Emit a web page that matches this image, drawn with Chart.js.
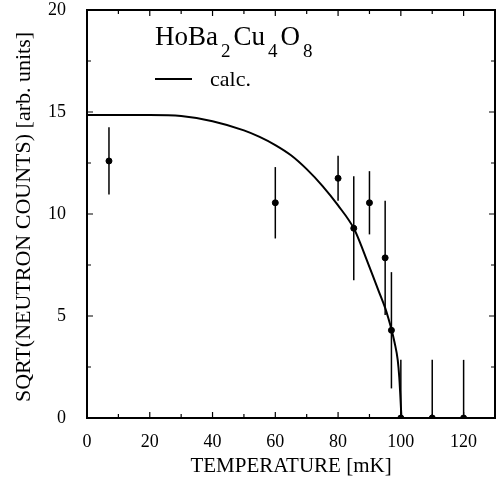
<!DOCTYPE html>
<html>
<head>
<meta charset="utf-8">
<script src="https://cdn.jsdelivr.net/npm/chart.js@4.4.0/dist/chart.umd.min.js"></script>
<style>
  html, body { margin: 0; padding: 0; background: #fff; }
  #wrap { width: 502px; height: 493px; }
</style>
</head>
<body>
<div id="wrap"><canvas id="myChart"></canvas></div>
<script>
// measured points (temperature in mK, sqrt counts)
const temps = [7, 60, 80, 85, 90, 95, 97, 100, 110, 120];
const counts = [12.6, 10.55, 11.75, 9.3, 10.55, 7.85, 4.3, 0, 0, 0];
const errDown = [1.65, 1.75, 1.1, 2.55, 1.55, 2.8, 2.85, 0, 0, 0];
const errUp = [1.65, 1.75, 1.1, 2.55, 1.55, 2.8, 2.85, 2.85, 2.85, 2.85];

// calculated curve
const calcT = [0, 10, 20, 30, 40, 50, 55, 60, 65, 70, 75, 80, 85, 87, 89, 91, 93, 95, 96, 97, 98, 99, 99.5, 99.8, 100.2];
const calcY = [14.85, 14.85, 14.85, 14.8, 14.55, 14.1, 13.78, 13.38, 12.88, 12.2, 11.38, 10.42, 9.3, 8.6, 7.8, 7.0, 6.2, 5.4, 4.9, 4.35, 3.7, 2.85, 2.0, 1.2, 0];

const xTicks = [0, 20, 40, 60, 80, 100, 120];
const yTicks = [0, 5, 10, 15, 20];

const serif = "'Liberation Serif', 'DejaVu Serif', serif";

const frame = {
  id: "frame",
  afterDatasetsDraw(chart) {
    const { ctx, chartArea: a, scales } = chart;
    const xs = scales.x, ys = scales.y;
    ctx.save();
    ctx.strokeStyle = "#000";

    // error bars
    ctx.lineWidth = 1.5;
    for (let i = 0; i < temps.length; i++) {
      const px = xs.getPixelForValue(temps[i]);
      ctx.beginPath();
      ctx.moveTo(px, ys.getPixelForValue(counts[i] - errDown[i]));
      ctx.lineTo(px, ys.getPixelForValue(counts[i] + errUp[i]));
      ctx.stroke();
    }

    // box
    ctx.lineWidth = 2;
    ctx.strokeRect(a.left, a.top, a.right - a.left, a.bottom - a.top);

    // inward ticks
    ctx.lineWidth = 1.2;
    for (let v = 0; v <= 130; v += 10) {
      const px = xs.getPixelForValue(v);
      const len = v % 20 === 0 ? 6 : 4;
      ctx.beginPath();
      ctx.moveTo(px, a.bottom); ctx.lineTo(px, a.bottom - len);
      ctx.moveTo(px, a.top); ctx.lineTo(px, a.top + len);
      ctx.stroke();
    }
    for (let v = 0; v <= 20; v += 2.5) {
      const py = ys.getPixelForValue(v);
      const len = v % 5 === 0 ? 6 : 4;
      ctx.beginPath();
      ctx.moveTo(a.left, py); ctx.lineTo(a.left + len, py);
      ctx.moveTo(a.right, py); ctx.lineTo(a.right - len, py);
      ctx.stroke();
    }

    // y title
    ctx.fillStyle = "#000";
    ctx.font = "22px " + serif;
    ctx.textAlign = "center";
    ctx.textBaseline = "middle";
    ctx.translate(24, 217);
    ctx.rotate(-Math.PI / 2);
    ctx.fillText("SQRT(NEUTRON COUNTS) [arb. units]", 0, 0);
    ctx.restore();

    // legend block
    ctx.save();
    ctx.fillStyle = "#000";
    ctx.textBaseline = "alphabetic";
    let x = 155;
    const parts = [["HoBa", 0], ["2", 1], ["Cu", 0], ["4", 1], ["O", 0], ["8", 1]];
    for (const [t, sub] of parts) {
      ctx.font = sub ? "19px " + serif : "27px " + serif;
      ctx.fillText(t, x, sub ? 57 : 45);
      x += ctx.measureText(t).width + 3;
    }
    ctx.lineWidth = 2;
    ctx.beginPath();
    ctx.moveTo(155, 79); ctx.lineTo(192, 79);
    ctx.stroke();
    ctx.font = "22px " + serif;
    ctx.fillText("calc.", 210, 86);
    ctx.restore();
  }
};

new Chart(document.getElementById("myChart"), {
  type: "scatter",
  data: {
    datasets: [
      {
        label: "calc.",
        data: calcT.map((t, i) => ({ x: t, y: calcY[i] })),
        showLine: true,
        borderColor: "#000",
        borderWidth: 2,
        pointRadius: 0,
        cubicInterpolationMode: "monotone",
      },
      {
        label: "data",
        data: temps.map((t, i) => ({ x: t, y: counts[i] })),
        backgroundColor: "#000",
        borderColor: "#000",
        pointRadius: 3,
      },
    ],
  },
  options: {
    responsive: true,
    maintainAspectRatio: false,
    animation: false,
    layout: { padding: { top: 10, right: 7, left: 0, bottom: 0 } },
    plugins: { legend: { display: false }, tooltip: { enabled: false } },
    scales: {
      x: {
        min: 0,
        max: 130,
        grid: { display: false },
        border: { display: false },
        afterBuildTicks: (s) => { s.ticks = xTicks.map((v) => ({ value: v })); },
        afterFit: (s) => { s.height = 75; s.paddingLeft = 0; s.paddingRight = 0; },
        ticks: { color: "#000", padding: 5, font: { family: serif, size: 18 } },
        title: {
          display: true,
          text: "TEMPERATURE [mK]",
          color: "#000",
          font: { family: serif, size: 21 },
          padding: { bottom: 14 },
        },
      },
      y: {
        min: 0,
        max: 20,
        grid: { display: false },
        border: { display: false },
        afterBuildTicks: (s) => { s.ticks = yTicks.map((v) => ({ value: v })); },
        afterFit: (s) => { s.width = 87; s.paddingTop = 0; s.paddingBottom = 0; },
        ticks: { color: "#000", padding: 13, font: { family: serif, size: 18 } },
      },
    },
  },
  plugins: [frame],
});
</script>
</body>
</html>
